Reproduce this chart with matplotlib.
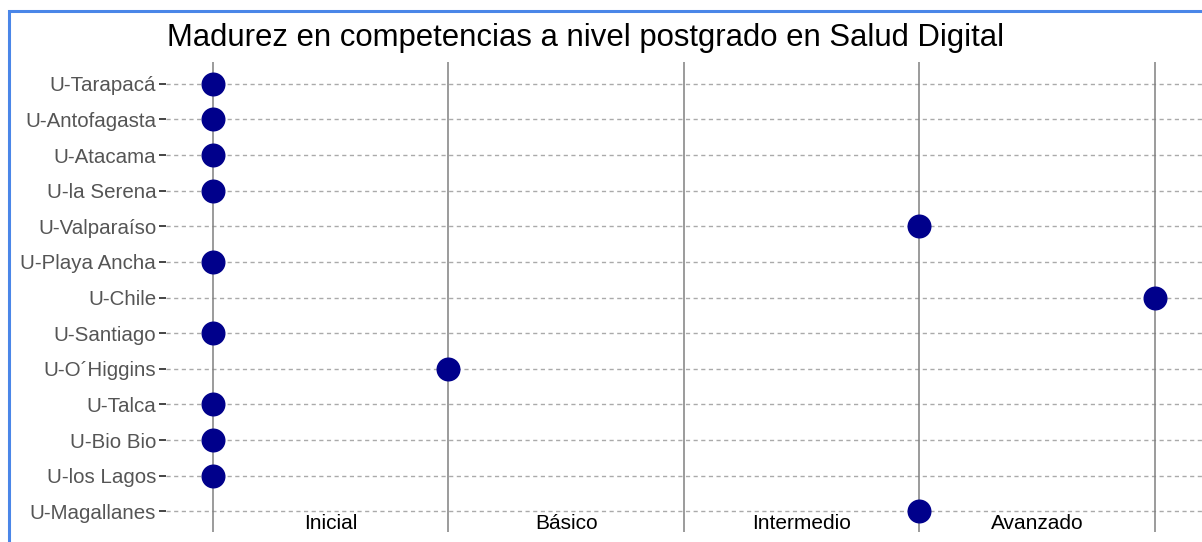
import matplotlib
matplotlib.use("Agg")
import matplotlib.pyplot as plt
from matplotlib.patches import Rectangle

plt.rcParams["font.family"] = ["Liberation Sans", "DejaVu Sans"]

universidades = [
    "U-Tarapacá", "U-Antofagasta", "U-Atacama", "U-la Serena", "U-Valparaíso",
    "U-Playa Ancha", "U-Chile", "U-Santiago", "U-O´Higgins", "U-Talca",
    "U-Bio Bio", "U-los Lagos", "U-Magallanes",
]
# 0 = Inicial, 1 = Básico, 2 = Intermedio, 3 = Avanzado, 4 = end of scale
nivel = [0, 0, 0, 0, 3, 0, 4, 0, 1, 0, 0, 0, 3]
niveles = ["Inicial", "Básico", "Intermedio", "Avanzado"]

fig = plt.figure(figsize=(12.02, 5.42), dpi=100)
ax = fig.add_axes([0.138, 0.018, 0.862, 0.868])

rows = list(range(len(universidades)))

# horizontal dashed guides and vertical level separators
for r in rows:
    ax.axhline(r, color="#aaaaaa", lw=1, ls=(0, (3, 2.5)), zorder=1)
for v in range(len(niveles) + 1):
    ax.axvline(v, color="#808080", lw=1.1, zorder=1)

ax.scatter(nivel, rows, s=265, color="#00008b", zorder=3, clip_on=False)

for i, name in enumerate(niveles):
    ax.text(i + 0.5, len(universidades) - 1 + 0.35, name, ha="center", va="center",
            fontsize=15, color="black")

ax.set_yticks(rows)
ax.set_yticklabels(universidades, fontsize=14.8, color="#555555")
ax.set_ylim(len(universidades) - 1 + 0.59, -0.62)
ax.set_xlim(-0.2, 4.2)
ax.set_xticks([])
ax.tick_params(axis="y", length=5, width=1.4, color="#444444", pad=2)
for s in ax.spines.values():
    s.set_visible(False)

fig.text(0.4875, 0.93, "Madurez en competencias a nivel postgrado en Salud Digital",
         ha="center", va="center", fontsize=22.4, color="black")

# blue frame of the screenshot (right/bottom edges cut off)
fig.patches.append(Rectangle((0.0075, -0.1), 1.2, 1.08, transform=fig.transFigure,
                             fill=False, edgecolor="#4a86e8", lw=2.2))

fig.savefig("out.png", dpi=100)
plt.close()
